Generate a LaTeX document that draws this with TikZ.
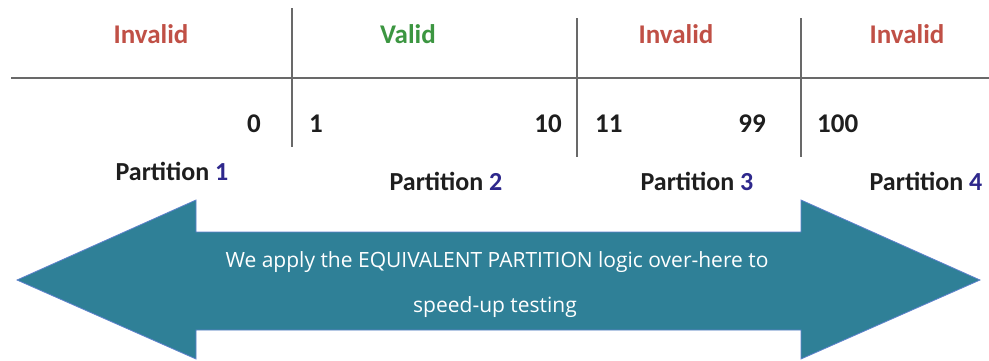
\documentclass[tikz,border=0pt]{standalone}
\usepackage{fontspec}
\setmainfont{Carlito}
\newfontfamily\handfont{Open Sans}
\definecolor{invred}{RGB}{192,80,70}
\definecolor{valgreen}{RGB}{60,150,65}
\definecolor{numblue}{RGB}{46,40,140}
\definecolor{txtgray}{RGB}{30,30,30}
\definecolor{linegray}{RGB}{105,105,105}
\definecolor{teal}{RGB}{47,128,151}
\definecolor{tealedge}{RGB}{95,130,205}
\begin{document}
\begin{tikzpicture}[x=1pt,y=-1pt,
  lbl/.style={font=\fontsize{27}{30}\selectfont\bfseries, inner sep=0pt, anchor=base},
  num/.style={font=\fontsize{27}{30}\selectfont\bfseries, text=txtgray, inner sep=0pt},
  part/.style={font=\fontsize{26}{30}\selectfont\bfseries, text=txtgray, inner sep=0pt, anchor=base},
  sep/.style={draw=linegray, line width=1.8pt},
  bigarrow/.style={fill=teal, draw=tealedge, line width=0.8pt, line join=miter},
  armtext/.style={font=\handfont\fontsize{21}{24}\selectfont, text=white, inner sep=0pt, anchor=base}
]
\useasboundingbox (0,0) rectangle (989,360);
\fill[white] (0,0) rectangle (989,360);

% grid lines
\coordinate (hl) at (11,78);
\coordinate (hr) at (989,78);
\draw[sep] (hl) -- (hr);
\coordinate (v1t) at (292,8);   \coordinate (v1b) at (292,147);
\coordinate (v2t) at (577,18);  \coordinate (v2b) at (577,157);
\coordinate (v3t) at (801,18);  \coordinate (v3b) at (801,157);
\draw[sep] (v1t) -- (v1b);
\draw[sep] (v2t) -- (v2b);
\draw[sep] (v3t) -- (v3b);

% headers
\node[lbl, text=invred] (h1) at (151,43) {Invalid};
\node[lbl, text=valgreen] (h2) at (408,43) {Valid};
\node[lbl, text=invred] (h3) at (676,43) {Invalid};
\node[lbl, text=invred] (h4) at (907,43) {Invalid};

% numbers
\node[num, anchor=base east] (n0) at (261,132) {0};
\node[num, anchor=base west] (n1) at (309,132) {1};
\node[num, anchor=base east] (n10) at (562,132) {10};
\node[num, anchor=base west] (n11) at (595,132) {11};
\node[num, anchor=base east] (n99) at (766,132) {99};
\node[num, anchor=base west] (n100) at (817,132) {100};

% partitions
\node[part] (p1) at (172,180) {Partition \textcolor{numblue}{1}};
\node[part] (p2) at (446,190) {Partition \textcolor{numblue}{2}};
\node[part] (p3) at (697,190) {Partition \textcolor{numblue}{3}};
\node[part] (p4) at (926,190) {Partition \textcolor{numblue}{4}};

% double arrow
\draw[bigarrow] (17,280) -- (196,200) -- (196,232) -- (801,232) -- (801,200)
  -- (980,280) -- (801,359) -- (801,330) -- (196,330) -- (196,359) -- cycle;

\node[armtext] (t1) at (497,267) {We apply the EQUIVALENT PARTITION logic over-here to};
\node[armtext] (t2) at (495,312) {speed-up testing};
\end{tikzpicture}
\end{document}
